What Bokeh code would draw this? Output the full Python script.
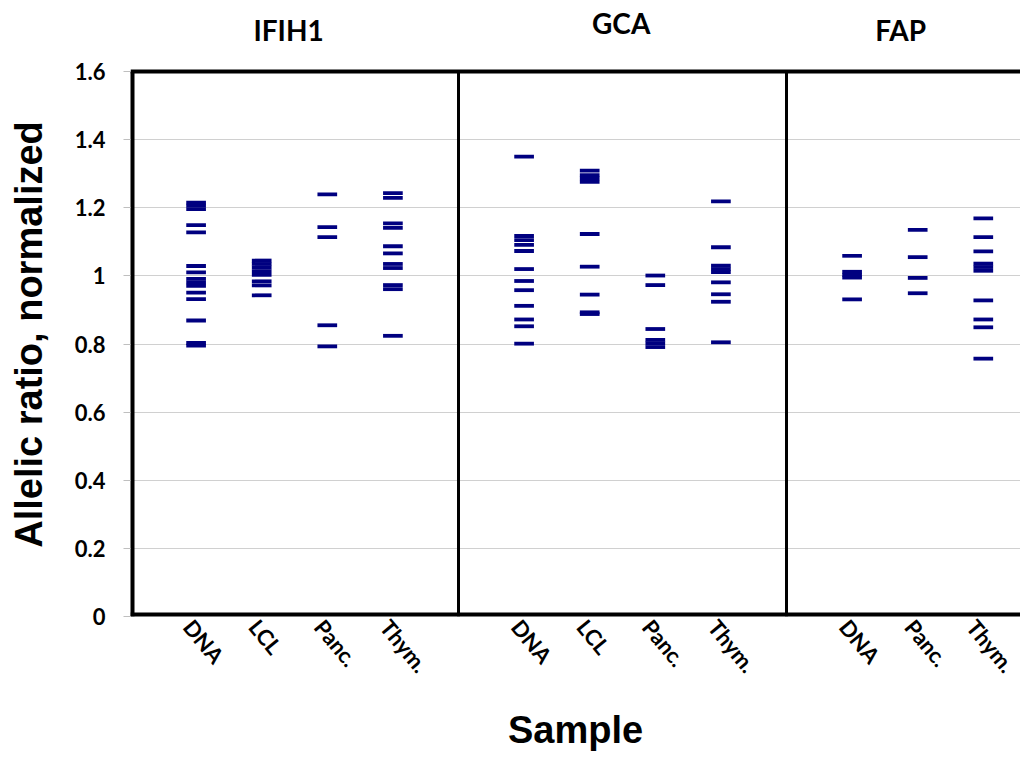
from bokeh.plotting import figure
from bokeh.models import Range1d, FixedTicker
from bokeh.layouts import column
from bokeh.core.properties import value
from bokeh.embed import file_html
from bokeh.resources import INLINE

# ---------------- data ----------------
genes = ["IFIH1", "GCA", "FAP"]
ifih1_samples = ["DNA", "LCL", "Panc.", "Thym."]
gca_samples = ["DNA", "LCL", "Panc.", "Thym."]
fap_samples = ["DNA", "Panc.", "Thym."]

ifih1_dna = [1.215, 1.206, 1.196, 1.149, 1.128, 1.029, 1.010, 0.991, 0.981, 0.971,
             0.951, 0.932, 0.869, 0.803, 0.795]
ifih1_lcl = [1.045, 1.035, 1.025, 1.014, 1.003, 0.984, 0.972, 0.943]
ifih1_panc = [1.239, 1.143, 1.114, 0.855, 0.793]
ifih1_thym = [1.243, 1.229, 1.154, 1.141, 1.087, 1.066, 1.035, 1.023, 0.973, 0.961, 0.824]

gca_dna = [1.350, 1.117, 1.105, 1.091, 1.073, 1.020, 0.985, 0.958, 0.912, 0.872, 0.852, 0.801]
gca_lcl = [1.309, 1.296, 1.286, 1.276, 1.123, 1.027, 0.945, 0.893, 0.888]
gca_panc = [1.001, 0.973, 0.844, 0.812, 0.802, 0.791]
gca_thym = [1.219, 1.084, 1.030, 1.020, 1.011, 0.981, 0.946, 0.924, 0.805]

fap_dna = [1.059, 1.012, 1.003, 0.995, 0.931]
fap_panc = [1.135, 1.055, 0.994, 0.949]
fap_thym = [1.169, 1.114, 1.072, 1.036, 1.026, 1.015, 0.928, 0.872, 0.849, 0.757]

y_ticks = [0, 0.2, 0.4, 0.6, 0.8, 1.0, 1.2, 1.4, 1.6]
y_tick_labels = ["0", "0.2", "0.4", "0.6", "0.8", "1", "1.2", "1.4", "1.6"]

panels = [
    (ifih1_samples, [ifih1_dna, ifih1_lcl, ifih1_panc, ifih1_thym]),
    (gca_samples, [gca_dna, gca_lcl, gca_panc, gca_thym]),
    (fap_samples, [fap_dna, fap_panc, fap_thym]),
]

# ---------------- layout constants ----------------
PANEL_W = 5
px_per_unit_x = 65.6
px_per_unit_y = 340.6
W, H = 1020, 757
TITLE_H = 52
left = 130
line16_px = 71       # page y of the 1.6 line
zero_px = 616        # page y of the 0 line
main_h = H - TITLE_H
frame_w = W - left
frame_top_val = 1.6 + (line16_px - TITLE_H) / px_per_unit_y
frame_h = zero_px - TITLE_H

x_range = Range1d(0, frame_w / px_per_unit_x)

# ---------------- title strip ----------------
t = figure(width=W, height=TITLE_H, output_backend="svg", toolbar_location=None,
           x_range=x_range, y_range=Range1d(0, TITLE_H),
           min_border_left=left, min_border_right=0, min_border_top=0,
           min_border_bottom=0)
t.axis.visible = False
t.grid.visible = False
t.outline_line_color = None
t.text(x=[2.41, 7.48, 11.74], y=[TITLE_H - 29, TITLE_H - 22, TITLE_H - 29], text=genes,
       text_font=value("Lato"), text_font_style="bold", text_font_size="28px",
       text_align="center", text_baseline="middle", text_color="black")

# ---------------- main figure ----------------
p = figure(width=W, height=main_h, output_backend="svg", toolbar_location=None,
           x_range=x_range,
           y_range=Range1d(0, frame_top_val),
           min_border_left=left, min_border_right=0, min_border_top=0,
           min_border_bottom=main_h - frame_h)
p.outline_line_color = None
p.background_fill_color = "white"
p.border_fill_color = "white"

# grid
p.xgrid.visible = False
p.ygrid.ticker = FixedTicker(ticks=y_ticks)
p.ygrid.grid_line_color = "#d0d0d0"
p.ygrid.grid_line_width = 1.2

# y axis
p.yaxis.ticker = FixedTicker(ticks=y_ticks)
p.yaxis.major_label_overrides = {tk: lb for tk, lb in zip(y_ticks, y_tick_labels)}
p.yaxis.axis_line_color = None
p.yaxis.major_tick_in = 0
p.yaxis.major_tick_out = 7
p.yaxis.major_tick_line_color = "#bfbfbf"
p.yaxis.minor_tick_line_color = None
p.yaxis.major_label_text_font = "Lato"
p.yaxis.major_label_text_font_style = "bold"
p.yaxis.major_label_text_font_size = "22px"
p.yaxis.major_label_text_color = "black"
p.yaxis.major_label_standoff = 18
p.yaxis.axis_label = "Allelic ratio, normalized"
p.yaxis.axis_label_text_font = "Liberation Sans"
p.yaxis.axis_label_text_font_style = "bold"
p.yaxis.axis_label_text_font_size = "38px"
p.yaxis.axis_label_text_color = "black"
p.yaxis.axis_label_standoff = 22

# x axis with per-panel category labels
label_shift = -0.12
x_ticks = []
x_labels = {}
for g, (samples, series) in enumerate(panels):
    for i, s in enumerate(samples):
        xv = g * PANEL_W + i + 1 + label_shift
        x_ticks.append(xv)
        x_labels[xv] = s
p.xaxis.ticker = FixedTicker(ticks=x_ticks)
p.xaxis.major_label_overrides = x_labels
p.xaxis.axis_line_color = None
p.xaxis.major_tick_line_color = None
p.xaxis.minor_tick_line_color = None
p.xaxis.major_label_orientation = -0.88
p.xaxis.major_label_text_font = "Lato"
p.xaxis.major_label_text_font_style = "bold"
p.xaxis.major_label_text_font_size = "22px"
p.xaxis.major_label_text_color = "black"
p.xaxis.major_label_standoff = 0
p.xaxis.axis_label = "Sample"
p.xaxis.axis_label_text_font = "Liberation Sans"
p.xaxis.axis_label_text_font_style = "bold"
p.xaxis.axis_label_text_font_size = "38px"
p.xaxis.axis_label_text_color = "black"
p.xaxis.axis_label_standoff = 20

# data marks
xs, ys = [], []
for g, (samples, series) in enumerate(panels):
    for i, vals in enumerate(series):
        for v in vals:
            xs.append(g * PANEL_W + i + 1)
            ys.append(v)
p.rect(x=xs, y=ys, width=0.3, height=3.8, height_units="screen",
       fill_color="#000080", line_color=None)

# borders and panel dividers
top = y_ticks[-1]
p.segment(x0=[0], y0=[0], x1=[0], y1=[top], line_color="black", line_width=8)
p.segment(x0=[0], y0=[0], x1=[3 * PANEL_W], y1=[0], line_color="black", line_width=8)
p.segment(x0=[0], y0=[top], x1=[3 * PANEL_W], y1=[top], line_color="black", line_width=4)
p.segment(x0=[PANEL_W, 2 * PANEL_W], y0=[0, 0], x1=[PANEL_W, 2 * PANEL_W], y1=[top, top],
          line_color="black", line_width=3)

layout = column(t, p, spacing=0)
open("out.html", "w").write(file_html(layout, INLINE))
